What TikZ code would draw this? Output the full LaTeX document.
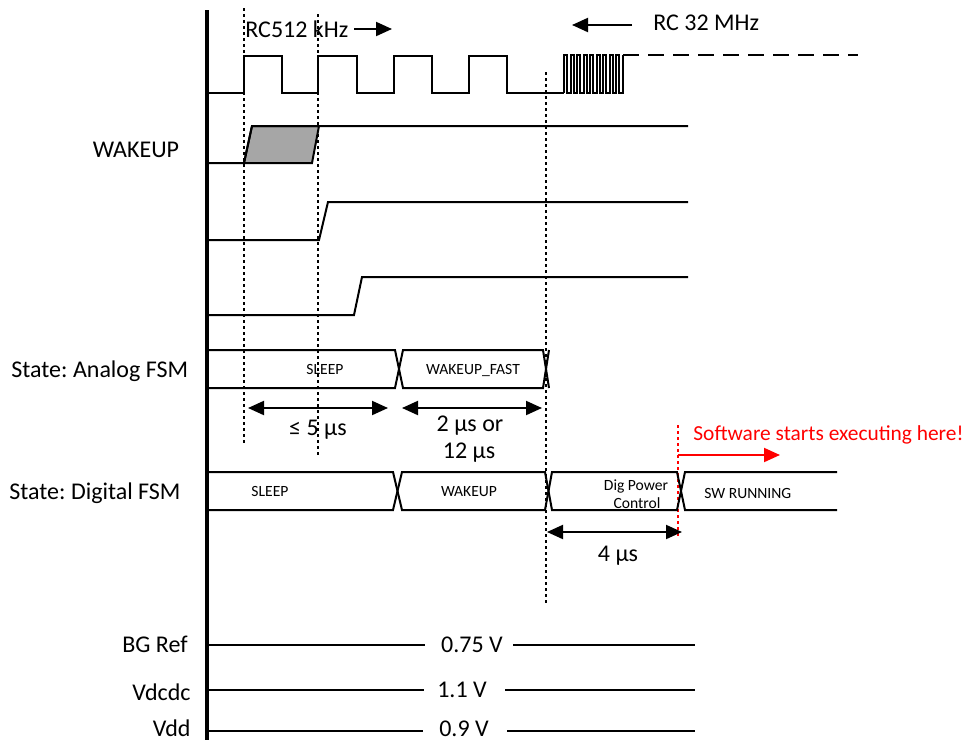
\documentclass[tikz,border=0pt]{standalone}
\usepackage{fontspec}
\setmainfont{Carlito}
\usetikzlibrary{arrows.meta}
\definecolor{wgray}{HTML}{A6A6A6}
\frenchspacing
\begin{document}
\begin{tikzpicture}[x=0.5pt,y=-0.5pt,
  sig/.style={line width=1pt, line join=miter},
  axisline/.style={line width=2pt},
  vdot/.style={line width=0.8pt, dash pattern=on 1.5pt off 1.5pt},
  tip/.style={-{Triangle[length=8pt,width=7pt]}},
  dimarrow/.style={line width=1pt, {Triangle[length=8pt,width=7pt]}-{Triangle[length=8pt,width=7pt]}},
  lbl/.style={font=\fontsize{12}{14}\selectfont, inner sep=0pt},
  boxlbl/.style={font=\fontsize{7.8}{9.5}\selectfont, inner sep=0pt},
  redtxt/.style={font=\fontsize{10.7}{12.5}\selectfont, text=red, inner sep=0pt}]
\useasboundingbox (0,0) rectangle (966,740);

% time axis
\draw[axisline] (207,10) -- (207,740);

% dotted markers
\draw[vdot] (244,8) -- (244,445);
\draw[vdot] (318,14) -- (318,455);
\draw[vdot] (546,72) -- (546,605);
\draw[vdot, red] (678,425) -- (678,537);

% slow clock
\draw[sig] (207,93) -- (244,93) -- (244,56) -- (282,56) -- (282,93) -- (318,93) -- (318,56)
  -- (357,56) -- (357,93) -- (394,93) -- (394,56) -- (432,56) -- (432,93) -- (469,93)
  -- (469,56) -- (507,56) -- (507,93) -- (564,93);
% fast clock
\draw[sig] (564,93) \foreach \i in {1,...,9} { -- ++(0,-38) -- ++(3.2,0) -- ++(0,38) -- ++(3.3,0) } -- ++(0,-38);
\draw[sig, dash pattern=on 8pt off 4.5pt] (623,55) -- (858,55);

% clock labels
\node[lbl, anchor=base west] (rcslow) at (245,37) {RC512 kHz};
\coordinate (rcslowA) at (354,29);
\coordinate (rcslowB) at (392,29);
\draw[sig, tip] (rcslowA) -- (rcslowB);
\node[lbl, anchor=base west] (rcfast) at (653,30) {RC 32 MHz};
\coordinate (rcfastA) at (632,25);
\coordinate (rcfastB) at (572,25);
\draw[sig, tip] (rcfastA) -- (rcfastB);

% WAKEUP
\node[lbl, anchor=base] (wk) at (136,157) {WAKEUP};
\filldraw[sig, fill=wgray] (244,163) -- (252,126) -- (319,126) -- (312,163) -- cycle;
\draw[sig] (207,163) -- (244,163) -- (252,126) -- (688,126);

% signal 2 and 3
\draw[sig] (207,240) -- (319,240) -- (328,202) -- (688,202);
\draw[sig] (207,315) -- (354,315) -- (362,277) -- (688,277);

% Analog FSM bus
\node[lbl, anchor=base west] (afsm) at (11,377) {State: Analog FSM};
\draw[sig] (207,350) -- (395,350) -- (403,388) -- (543,388) -- (549,350);
\draw[sig] (207,388) -- (395,388) -- (403,350) -- (543,350) -- (549,388);
\node[boxlbl, anchor=base] (asleep) at (325,374) {SLEEP};
\node[boxlbl, anchor=base] (afast) at (473,374) {WAKEUP\_FAST};

% analog dimensions
\coordinate (d1a) at (248,408);
\coordinate (d1b) at (388,408);
\draw[dimarrow] (d1a) -- (d1b);
\node[lbl, anchor=base] (d1t) at (318,435) {≤ 5 µs};
\coordinate (d2a) at (402,408);
\coordinate (d2b) at (542,408);
\draw[dimarrow] (d2a) -- (d2b);
\node[lbl, anchor=base] (d2t) at (470,431) {2 µs or};
\node[lbl, anchor=base] (d2u) at (469,458) {12 µs};

% Digital FSM bus
\node[lbl, anchor=base west] (dfsm) at (9,499) {State: Digital FSM};
\draw[sig] (207,472) -- (393,472) -- (402,510) -- (545,510) -- (552,472) -- (677,472) -- (685,510) -- (837,510);
\draw[sig] (207,510) -- (393,510) -- (402,472) -- (545,472) -- (552,510) -- (677,510) -- (685,472) -- (837,472);
\node[boxlbl, anchor=base] (dsleep) at (270,496) {SLEEP};
\node[boxlbl, anchor=base] (dwake) at (469,496) {WAKEUP};
\node[boxlbl, anchor=base] (dpow1) at (636,490) {Dig Power};
\node[boxlbl, anchor=base] (dpow2) at (637,508) {Control};
\node[boxlbl, anchor=base west] (dsw) at (704,498) {SW RUNNING};

% 4 us dimension
\coordinate (d3a) at (547,532);
\coordinate (d3b) at (682,532);
\draw[dimarrow] (d3a) -- (d3b);
\node[lbl, anchor=base] (d3t) at (618,561) {4 µs};

% software starts
\node[redtxt, anchor=base west] (sw) at (693,440) {Software starts executing here!};
\coordinate (swa) at (678,455);
\coordinate (swb) at (780,455);
\draw[sig, red, tip] (swa) -- (swb);

% supply rails
\node[lbl, anchor=base east] (bg) at (188,652) {BG Ref};
\node[lbl, anchor=base] (bgv) at (472,652) {0.75 V};
\draw[sig] (207,645) -- (425,645);
\draw[sig] (513,645) -- (695,645);

\node[lbl, anchor=base east] (vdcdc) at (191,700) {Vdcdc};
\node[lbl, anchor=base] (vdcdcv) at (462,697) {1.1 V};
\draw[sig] (207,690) -- (424,690);
\draw[sig] (505,690) -- (695,690);

\node[lbl, anchor=base east] (vdd) at (191,736) {Vdd};
\node[lbl, anchor=base] (vddv) at (464,736) {0.9 V};
\draw[sig] (207,731) -- (423,731);
\draw[sig] (507,731) -- (695,731);
\end{tikzpicture}
\end{document}
